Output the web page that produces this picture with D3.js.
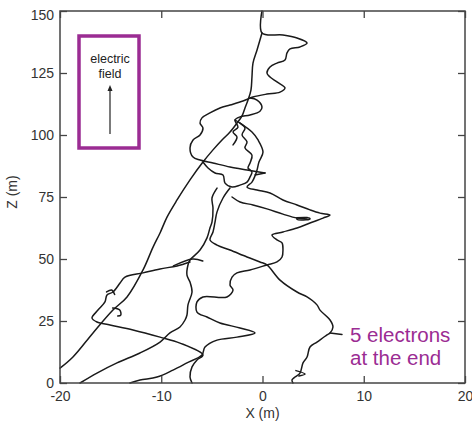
<!DOCTYPE html>
<html>
<head>
<meta charset="utf-8">
<script src="https://cdn.jsdelivr.net/npm/d3@7"></script>
<style>
  html, body { margin: 0; padding: 0; background: #fff; }
  svg { display: block; }
</style>
</head>
<body>
<svg id="chart" width="472" height="422"></svg>
<script>
// Axis ticks
const xTicks = [-20, -10, 0, 10, 20];
const zTicks = [0, 25, 50, 75, 100, 125, 150];

// Electron trajectories, [X (m), Z (m)]
const trunk = [
  [-0.05,150],[-0.05,141.1],[2.02,140.3],[3.41,139.1],[4.40,137.1],[3.70,135.5],[2.72,134.7],
  [2.42,133.1],[2.22,130.2],[1.43,129.0],[0.74,127.4],[0.44,125.0],[0.74,123.4],[1.43,121.4],
  [2.22,119.0],[1.73,117.3],[0.44,116.5],[-0.94,115.3],[-1.93,113.7],[-3.21,112.1],[-4.20,110.9],
  [-5.19,108.9],[-5.98,106.9],[-6.17,104.8],[-5.88,102.8],[-6.17,100.0],[-6.86,98.0],[-7.16,94.8],
  [-6.86,91.1],[-6.17,89.9],[-4.89,88.7],[-3.21,87.1],[-1.53,85.9],[0.25,84.7]
];
const pathA = [
  [-0.05,141.1],[-0.54,134.3],[-0.94,129.0],[-1.04,123.4],[-1.14,118.1],[-1.43,114.1],[-1.73,110.9],
  [-2.02,107.7],[-2.52,104.8],[-3.21,101.2],[-4.0,98.0],[-4.89,94.0],[-5.88,89.1],[-7.16,81.9],
  [-8.44,73.8],[-9.43,66.9],[-10.12,60.5],[-10.81,54.8],[-11.80,45.6],[-13.38,34.7],[-14.77,29.4],
  [-16.74,20.2],[-18.72,10.5],[-20,6.0]
];
const loop = [
  [-1.23,114.9],[-0.54,114.1],[-0.05,111.3],[-0.25,109.6],[-1.23,108.1],[-2.22,107.3],[-2.72,106.0],
  [-2.42,103.2],[-2.91,101.2],[-2.52,99.2],[-2.91,96.0]
];
const pathB = [
  [-2.72,106.0],[-2.22,104.8],[-1.73,102.8],[-2.02,100.0],[-1.53,97.2],[-1.73,94.8],[-1.04,91.9],
  [-1.23,88.7],[-1.43,86.7],[-1.04,85.1],[-1.23,83.1],[-1.53,81.0],[-2.22,79.8],[-3.01,79.0],
  [-3.70,80.6],[-3.90,83.9],[-4.69,84.7],[-5.38,86.7],[-5.88,89.1]
];
const pathC = [
  [-2.22,104.8],[-1.04,101.2],[-0.44,98.0],[0.05,93.1],[-0.35,89.1],[-0.54,85.9],[-0.74,83.5],
  [-1.04,81.0],[-1.53,79.0],[-0.54,77.8],[0.74,76.6],[2.02,73.8],[3.41,71.8],[4.69,69.8],
  [5.68,68.5],[6.67,67.7],[5.98,66.5],[4.69,64.5],[3.41,62.5],[2.02,60.9],[0.94,59.7],[1.43,57.7],
  [1.93,56.5],[2.02,53.6],[1.93,50.8],[1.43,48.8],[0.44,47.6],[-1.23,45.6],[-2.52,44.4],
  [-3.01,42.7],[-3.21,39.5],[-2.91,37.5],[-3.51,34.7],[-5.88,34.7],[-6.47,32.7],[-6.47,28.6],
  [-5.48,26.6],[-4.20,24.2],[-2.22,22.2],[-0.74,20.2],[-2.52,18.5],[-4.49,17.3],[-5.68,14.5],
  [-5.98,11.3],[-7.46,8.1],[-8.84,5.2],[-10.42,2.4],[-12.10,1.2],[-13.09,0]
];
const pathD = [
  [-3.01,75.0],[-2.22,73.0],[-0.94,71.8],[0.44,70.2],[2.02,68.1],[3.41,66.5],[4.40,66.1]
];
const blob = [[3.4,66.6],[4.4,66.7],[4.7,66.2],[4.3,65.8],[3.4,66.0],[3.4,66.6]];
const pathE = [
  [-3.21,78.6],[-3.90,74.6],[-4.49,69.0],[-4.69,64.9],[-4.89,60.9],[-5.19,57.7],[-4.49,55.6],
  [-3.21,53.6],[-1.53,50.8],[-0.25,48.8],[0.44,47.6],[1.73,41.5],[3.41,36.7],[4.40,34.7],
  [5.38,31.5],[5.68,29.4],[6.67,25.4],[6.96,22.6],[6.67,20.2],[6.37,19.4],[5.38,16.5],[4.69,14.5],
  [4.40,10.5],[4.0,8.1],[3.70,4.0],[3.21,2.4],[2.91,1.2],[3.01,0]
];
const pathF = [
  [-4.49,78.6],[-4.99,74.6],[-4.89,70.6],[-4.99,64.9],[-5.19,62.5],[-5.48,58.5],[-6.17,53.6],
  [-7.16,49.6],[-7.36,47.6],[-7.46,43.5],[-7.16,40.7],[-6.96,36.7],[-7.36,31.5],[-7.46,27.4],
  [-7.65,25.4],[-8.15,22.6],[-9.14,20.2],[-10.12,16.5],[-12.10,12.1],[-14.37,8.1],[-16.35,4.0],
  [-18.02,0]
];
const pathG = [
  [-7.16,48.8],[-8.44,47.2],[-10.12,46.0],[-11.80,44.4],[-13.58,42.7],[-14.07,40.3],[-14.77,36.7],
  [-15.36,35.5],[-15.56,32.7],[-16.25,29.4],[-16.84,26.2],[-16.35,24.6],[-15.06,23.4],
  [-12.79,21.4],[-10.12,18.5],[-8.15,16.1],[-5.88,11.3],[-6.47,9.3],[-6.96,6.5],[-7.16,2.4],[-6.96,0]
];
// short side strokes
const stubs = [
  [[6.67,20.2],[7.85,19.6]],
  [[-8.8,47.2],[-6.9,50.0],[-5.9,49.2]],
  [[-15.4,36.7],[-14.9,37.5],[-14.6,35.7]],
  [[-14.8,30.2],[-14.1,29.4],[-14.0,27.4],[-14.3,27.0]],
  [[-0.74,83.9],[0.25,84.7]],
  [[3.3,5.0],[4.2,3.6],[3.6,2.8]]
];

const paths = [trunk, pathA, loop, pathB, pathC, pathD, pathE, pathF, pathG, blob, ...stubs];

const svg = d3.select("#chart");
const x = d3.scaleLinear().domain([-20, 20]).range([60, 465]);
const z = d3.scaleLinear().domain([0, 150]).range([383, 11]);

const font = "'Liberation Sans', Arial, sans-serif";
const tickColor = "#333";

// trajectories
const line = d3.line().x(d => x(d[0])).y(d => z(d[1])).curve(d3.curveCatmullRom.alpha(0.5));
svg.append("g")
  .selectAll("path")
  .data(paths)
  .join("path")
  .attr("d", line)
  .attr("fill", "none")
  .attr("stroke", "#1a1a1a")
  .attr("stroke-width", 1.5)
  .attr("stroke-linejoin", "round")
  .attr("stroke-linecap", "round");

// axes, ticks pointing inward
function styleAxis(g) {
  g.select(".domain").remove();
  g.selectAll("line").attr("stroke", "#444").attr("stroke-width", 1.3);
  g.selectAll("text").attr("fill", tickColor).style("font-family", font).style("font-size", "14px");
}
svg.append("g").attr("transform", "translate(0,383)")
  .call(d3.axisBottom(x).tickValues(xTicks).tickSize(-7).tickSizeOuter(0).tickPadding(8).tickFormat(d => String(d)))
  .call(styleAxis);
svg.append("g").attr("transform", "translate(0,11)")
  .call(d3.axisTop(x).tickValues(xTicks).tickSize(-7).tickSizeOuter(0).tickFormat(""))
  .call(styleAxis);
const leftAxis = svg.append("g").attr("transform", "translate(60,0)")
  .call(d3.axisLeft(z).tickValues(zTicks).tickSize(-7).tickSizeOuter(0).tickPadding(6).tickFormat(d => String(d)))
  .call(styleAxis);
// top label sits a little below its tick so it stays clear of the edge
leftAxis.selectAll(".tick").filter(d => d === 150).select("text").attr("y", 4);
svg.append("g").attr("transform", "translate(465,0)")
  .call(d3.axisRight(z).tickValues(zTicks).tickSize(-7).tickSizeOuter(0).tickFormat(""))
  .call(styleAxis);

// plot frame
svg.append("rect")
  .attr("x", x(-20)).attr("y", z(150))
  .attr("width", x(20) - x(-20)).attr("height", z(0) - z(150))
  .attr("fill", "none").attr("stroke", "#444").attr("stroke-width", 1.5);

// axis titles
svg.append("text")
  .attr("x", x(0)).attr("y", 418)
  .attr("text-anchor", "middle")
  .attr("fill", tickColor).style("font-family", font).style("font-size", "14px")
  .text("X (m)");
svg.append("text")
  .attr("transform", `translate(17,${z(77)}) rotate(-90)`)
  .attr("text-anchor", "middle")
  .attr("fill", tickColor).style("font-family", font).style("font-size", "14px")
  .text("Z (m)");

// field direction inset
const purple = "#9b2c93";
svg.append("rect")
  .attr("x", 79).attr("y", 36).attr("width", 60).attr("height", 112)
  .attr("fill", "none").attr("stroke", purple).attr("stroke-width", 3.5);
svg.append("text")
  .attr("x", 110).attr("y", 63).attr("text-anchor", "middle")
  .attr("fill", "#222").style("font-family", font).style("font-size", "12.5px")
  .text("electric");
svg.append("text")
  .attr("x", 110).attr("y", 78).attr("text-anchor", "middle")
  .attr("fill", "#222").style("font-family", font).style("font-size", "12.5px")
  .text("field");
svg.append("line")
  .attr("x1", 110).attr("y1", 134).attr("x2", 110).attr("y2", 88)
  .attr("stroke", "#222").attr("stroke-width", 1.2);
svg.append("path")
  .attr("d", "M110,85 L107.5,91 L112.5,91 Z")
  .attr("fill", "#222");

// end annotation
const note = svg.append("text")
  .attr("fill", purple).style("font-family", font).style("font-size", "20.5px");
note.append("tspan").attr("x", 350).attr("y", 342).text("5 electrons");
note.append("tspan").attr("x", 350).attr("y", 365).text("at the end");
</script>
</body>
</html>
